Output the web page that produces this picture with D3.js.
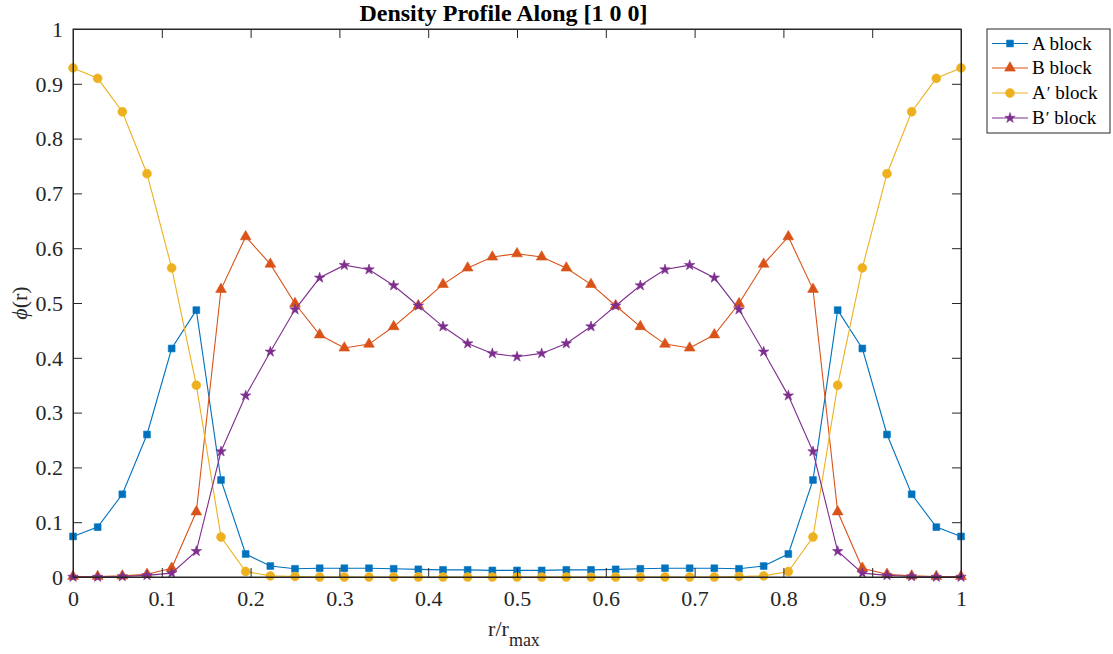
<!DOCTYPE html>
<html><head><meta charset="utf-8">
<script src="https://cdn.jsdelivr.net/npm/d3@7"></script>
<style>body{margin:0;background:#fff}svg{display:block}</style>
</head><body>
<script>
const rValues = [0,1,2,3,4,5,6,7,8,9,10,11,12,13,14,15,16,17,18,19,20,21,22,23,24,25,26,27,28,29,30,31,32,33,34,35,36].map(i => i/36);
const seriesA  = [0.074,0.091,0.151,0.260,0.417,0.487,0.177,0.042,0.020,0.015,0.016,0.016,0.016,0.015,0.014,0.013,0.013,0.012,0.012,0.012,0.013,0.013,0.014,0.015,0.016,0.016,0.016,0.015,0.020,0.042,0.177,0.487,0.417,0.260,0.151,0.091,0.074];
const seriesB  = [0.001,0.001,0.002,0.005,0.016,0.119,0.525,0.621,0.571,0.499,0.442,0.418,0.425,0.457,0.495,0.534,0.564,0.584,0.590,0.584,0.564,0.534,0.495,0.457,0.425,0.418,0.442,0.499,0.571,0.621,0.525,0.119,0.016,0.005,0.002,0.001,0.001];
const seriesAp = [0.929,0.910,0.849,0.736,0.564,0.350,0.073,0.010,0.002,0.001,0.000,0.000,0.000,0.000,0.000,0.000,0.000,0.000,0.000,0.000,0.000,0.000,0.000,0.000,0.000,0.000,0.000,0.001,0.002,0.010,0.073,0.350,0.564,0.736,0.849,0.910,0.929];
const seriesBp = [0.000,0.000,0.001,0.003,0.007,0.047,0.229,0.331,0.411,0.488,0.546,0.569,0.561,0.532,0.495,0.457,0.426,0.408,0.402,0.408,0.426,0.457,0.495,0.532,0.561,0.569,0.546,0.488,0.411,0.331,0.229,0.047,0.007,0.003,0.001,0.000,0.000];
const seriesNames = ["A", "B", "A′", "B′"];
const xTicks = [0,0.1,0.2,0.3,0.4,0.5,0.6,0.7,0.8,0.9,1];
const yTicks = [0,0.1,0.2,0.3,0.4,0.5,0.6,0.7,0.8,0.9,1];
const xTickLabels = ["0","0.1","0.2","0.3","0.4","0.5","0.6","0.7","0.8","0.9","1"];
const yTickLabels = ["0","0.1","0.2","0.3","0.4","0.5","0.6","0.7","0.8","0.9","1"];

const W = 1113, H = 654;
const L = 73, R = 961, T = 29, B = 577;
const FONT = "'Liberation Serif','Times New Roman',serif";
const AX = "#262626";

const svg = d3.select("body").append("svg").attr("width", W).attr("height", H)
  .style("font-family", FONT);

const x = d3.scaleLinear().domain([0,1]).range([L,R]);
const y = d3.scaleLinear().domain([0,1]).range([B,T]);

const series = [
  {name: seriesNames[0], vals: seriesA,  color: "#0072BD", sym: d3.symbolSquare,   size: 46},
  {name: seriesNames[1], vals: seriesB,  color: "#D95319", sym: d3.symbolTriangle, size: 50},
  {name: seriesNames[2], vals: seriesAp, color: "#EDB120", sym: d3.symbolCircle,   size: 62},
  {name: seriesNames[3], vals: seriesBp, color: "#7E2F8E", sym: d3.symbolStar,     size: 34},
];

const line = d3.line().x((d,i) => x(rValues[i])).y(d => y(d));
series.forEach(s => {
  const g = svg.append("g");
  g.append("path").attr("d", line(s.vals)).attr("fill","none")
    .attr("stroke", s.color).attr("stroke-width", 1.1);
  g.selectAll("path.m").data(s.vals).enter().append("path").attr("class","m")
    .attr("transform", (d,i) => `translate(${x(rValues[i])},${y(d)})`)
    .attr("d", d3.symbol().type(s.sym).size(s.size)())
    .attr("fill", s.color).attr("stroke", s.color).attr("stroke-width", 0.6);
});

// axes (box with inward ticks on all sides)
const tl = 9;
const axG = svg.append("g").attr("stroke", AX).attr("stroke-width", 1).attr("fill","none");
axG.append("rect").attr("x", L).attr("y", T).attr("width", R-L).attr("height", B-T);
const xAxB = d3.axisBottom(x).tickValues(xTicks).tickSizeInner(-tl).tickSizeOuter(0)
  .tickFormat((d,i) => xTickLabels[i]).tickPadding(14);
const gxb = svg.append("g").attr("transform", `translate(0,${B})`).call(xAxB);
const xAxT = d3.axisTop(x).tickValues(xTicks).tickSizeInner(-tl).tickSizeOuter(0).tickFormat("");
const gxt = svg.append("g").attr("transform", `translate(0,${T})`).call(xAxT);
const yAxL = d3.axisLeft(y).tickValues(yTicks).tickSizeInner(-tl).tickSizeOuter(0)
  .tickFormat((d,i) => yTickLabels[i]).tickPadding(10);
const gyl = svg.append("g").attr("transform", `translate(${L},0)`).call(yAxL);
const yAxR = d3.axisRight(y).tickValues(yTicks).tickSizeInner(-tl).tickSizeOuter(0).tickFormat("");
const gyr = svg.append("g").attr("transform", `translate(${R},0)`).call(yAxR);
[gxb,gxt,gyl,gyr].forEach(g => {
  g.select(".domain").attr("stroke", AX);
  g.selectAll(".tick line").attr("stroke", AX);
  g.selectAll(".tick text").attr("fill", AX).style("font-family", FONT).style("font-size", "22px");
});
gxb.selectAll(".tick text").attr("dy", "0.68em");
gyl.selectAll(".tick text").attr("dy", "0.33em");

// title
svg.append("text").attr("x", 503.5).attr("y", 21).attr("text-anchor","middle")
  .style("font-weight","bold").style("font-size","24px").attr("fill","#000")
  .text("Density Profile Along [1 0 0]");

// x label
const xl = svg.append("text").attr("x", 514).attr("y", 636).attr("text-anchor","middle")
  .style("font-size","22px").attr("fill", AX);
xl.append("tspan").text("r/r");
xl.append("tspan").attr("dy", 10).style("font-size","18px").text("max");

// y label
const yl = svg.append("text").attr("transform", `translate(27,303) rotate(-90)`).attr("text-anchor","middle")
  .style("font-size","22px").attr("fill", AX);
yl.append("tspan").style("font-style","italic").text("ϕ");
yl.append("tspan").text("(r)");

// legend
const lg = svg.append("g");
lg.append("rect").attr("x", 987).attr("y", 29).attr("width", 123).attr("height", 104)
  .attr("fill","#fff").attr("stroke", AX).attr("stroke-width", 1);
const rowsY = [43.5, 68, 93, 118];
series.forEach((s, k) => {
  const yy = rowsY[k];
  lg.append("line").attr("x1", 992).attr("x2", 1028).attr("y1", yy).attr("y2", yy)
    .attr("stroke", s.color).attr("stroke-width", 1.1);
  lg.append("path").attr("transform", `translate(1010,${yy})`)
    .attr("d", d3.symbol().type(s.sym).size(s.size)())
    .attr("fill", s.color).attr("stroke", s.color).attr("stroke-width", 0.6);
  const t = lg.append("text").attr("x", 1032).attr("y", yy).attr("dy","0.33em")
    .style("font-size","19px").attr("fill","#000");
  if (s.name.length > 1) {
    t.append("tspan").text(s.name[0]);
    t.append("tspan").attr("dx", 1).attr("dy", -1).style("font-size","17px").text("′");
    t.append("tspan").attr("dy", 1).text(" block");
  } else {
    t.text(s.name + " block");
  }
});
</script>
</body></html>
